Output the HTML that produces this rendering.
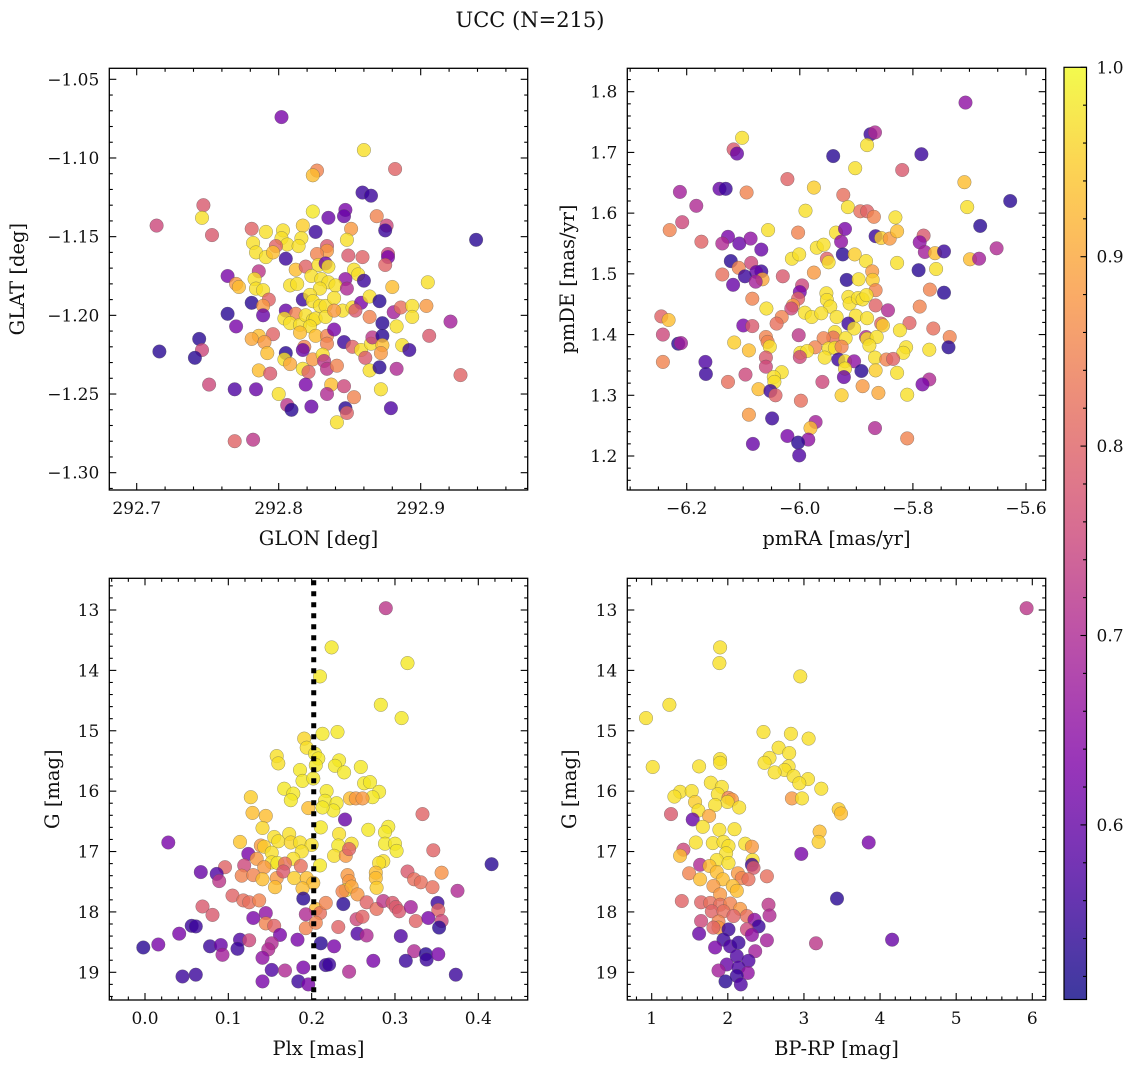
<!DOCTYPE html>
<html><head><meta charset="utf-8"><title>UCC (N=215)</title>
<style>
html,body{margin:0;padding:0;background:#fff;}
svg{display:block;font-family:"DejaVu Serif","Liberation Serif",serif;}
</style></head>
<body>
<svg id="fig" width="1136" height="1067" viewBox="0 0 1136 1067" xmlns="http://www.w3.org/2000/svg">
<rect width="1136" height="1067" fill="#fff"/>
<text x="530" y="27" font-size="21" text-anchor="middle" fill="#111">UCC (N=215)</text>
</svg>
<script>
// ---- data: [x, y, membership probability] ----
const glonGlatPoints = [
[292.802,-1.074,0.62],[292.860,-1.095,0.97],[292.827,-1.108,0.85],[292.824,-1.111,0.93],[292.882,-1.107,0.8],[292.859,-1.122,0.55],[292.865,-1.124,0.55],[292.747,-1.130,0.78],[292.746,-1.138,0.97],[292.714,-1.143,0.75],[292.753,-1.149,0.78],[292.824,-1.134,0.98],[292.835,-1.138,0.6],[292.847,-1.133,0.62],[292.846,-1.137,0.6],[292.869,-1.137,0.85],[292.781,-1.145,0.8],[292.791,-1.147,0.97],[292.803,-1.146,0.97],[292.817,-1.143,0.95],[292.826,-1.147,0.55],[292.851,-1.145,0.88],[292.876,-1.143,0.75],[292.875,-1.146,0.55],[292.939,-1.152,0.53],[292.848,-1.152,0.97],[292.782,-1.154,0.97],[292.802,-1.151,0.97],[292.806,-1.155,0.97],[292.816,-1.151,0.97],[292.814,-1.156,0.97],[292.798,-1.156,0.8],[292.784,-1.160,0.97],[292.791,-1.163,0.97],[292.796,-1.160,0.93],[292.805,-1.164,0.55],[292.834,-1.156,0.78],[292.834,-1.159,0.88],[292.827,-1.161,0.85],[292.849,-1.162,0.78],[292.859,-1.163,0.8],[292.877,-1.161,0.75],[292.877,-1.163,0.62],[292.875,-1.168,0.8],[292.812,-1.171,0.93],[292.819,-1.169,0.8],[292.828,-1.168,0.97],[292.833,-1.167,0.6],[292.835,-1.169,0.97],[292.786,-1.172,0.72],[292.764,-1.175,0.62],[292.770,-1.180,0.88],[292.772,-1.182,0.93],[292.783,-1.177,0.97],[292.784,-1.183,0.97],[292.789,-1.184,0.97],[292.853,-1.171,0.97],[292.856,-1.174,0.97],[292.847,-1.177,0.65],[292.860,-1.178,0.55],[292.808,-1.181,0.97],[292.813,-1.180,0.97],[292.823,-1.175,0.97],[292.830,-1.177,0.97],[292.835,-1.179,0.97],[292.840,-1.181,0.97],[292.829,-1.183,0.97],[292.848,-1.183,0.7],[292.880,-1.182,0.93],[292.905,-1.179,0.97],[292.793,-1.190,0.8],[292.781,-1.192,0.53],[292.789,-1.194,0.88],[292.789,-1.200,0.6],[292.817,-1.190,0.55],[292.822,-1.187,0.97],[292.824,-1.191,0.97],[292.829,-1.194,0.97],[292.833,-1.194,0.97],[292.839,-1.189,0.97],[292.845,-1.197,0.97],[292.852,-1.195,0.97],[292.858,-1.192,0.62],[292.864,-1.188,0.97],[292.871,-1.191,0.53],[292.854,-1.197,0.78],[292.764,-1.199,0.53],[292.770,-1.207,0.62],[292.805,-1.197,0.6],[292.812,-1.199,0.85],[292.804,-1.202,0.97],[292.808,-1.205,0.97],[292.815,-1.206,0.97],[292.819,-1.200,0.97],[292.824,-1.203,0.97],[292.826,-1.202,0.97],[292.822,-1.207,0.97],[292.833,-1.201,0.97],[292.839,-1.197,0.88],[292.864,-1.201,0.85],[292.881,-1.198,0.68],[292.886,-1.195,0.82],[292.894,-1.194,0.97],[292.894,-1.201,0.97],[292.904,-1.194,0.88],[292.921,-1.204,0.68],[292.873,-1.205,0.53],[292.883,-1.207,0.97],[292.744,-1.215,0.53],[292.746,-1.222,0.75],[292.716,-1.223,0.53],[292.741,-1.227,0.53],[292.796,-1.212,0.8],[292.786,-1.213,0.93],[292.781,-1.215,0.9],[292.790,-1.217,0.88],[292.792,-1.224,0.93],[292.815,-1.211,0.93],[292.818,-1.220,0.85],[292.817,-1.222,0.6],[292.826,-1.213,0.93],[292.834,-1.213,0.85],[292.834,-1.218,0.85],[292.839,-1.209,0.62],[292.846,-1.217,0.55],[292.852,-1.220,0.8],[292.858,-1.222,0.97],[292.865,-1.218,0.97],[292.866,-1.214,0.72],[292.873,-1.213,0.53],[292.873,-1.219,0.93],[292.872,-1.224,0.88],[292.887,-1.219,0.97],[292.892,-1.222,0.55],[292.906,-1.213,0.78],[292.805,-1.224,0.53],[292.804,-1.228,0.97],[292.808,-1.231,0.9],[292.817,-1.234,0.97],[292.824,-1.228,0.88],[292.821,-1.236,0.8],[292.831,-1.225,0.97],[292.832,-1.229,0.72],[292.834,-1.234,0.72],[292.841,-1.232,0.85],[292.861,-1.227,0.78],[292.864,-1.235,0.97],[292.871,-1.233,0.53],[292.883,-1.234,0.7],[292.928,-1.238,0.8],[292.786,-1.235,0.93],[292.794,-1.237,0.78],[292.751,-1.244,0.75],[292.769,-1.247,0.57],[292.784,-1.247,0.6],[292.800,-1.250,0.97],[292.819,-1.244,0.62],[292.837,-1.244,0.93],[292.846,-1.245,0.75],[292.834,-1.250,0.7],[292.853,-1.252,0.85],[292.872,-1.247,0.97],[292.806,-1.257,0.72],[292.809,-1.260,0.53],[292.823,-1.258,0.6],[292.847,-1.259,0.53],[292.848,-1.262,0.8],[292.879,-1.259,0.57],[292.841,-1.268,0.97],[292.769,-1.280,0.8],[292.782,-1.279,0.72]
];
const pmPoints = [
[-5.707,1.782,0.65],[-5.875,1.730,0.55],[-5.867,1.733,0.7],[-6.102,1.724,0.97],[-5.881,1.712,0.97],[-6.117,1.705,0.78],[-6.111,1.698,0.6],[-5.941,1.694,0.53],[-5.785,1.697,0.55],[-5.902,1.674,0.97],[-5.819,1.671,0.78],[-6.022,1.656,0.8],[-5.975,1.642,0.95],[-5.709,1.651,0.93],[-6.142,1.640,0.6],[-6.131,1.640,0.55],[-6.094,1.634,0.85],[-6.212,1.635,0.68],[-5.923,1.630,0.82],[-5.628,1.620,0.53],[-6.183,1.612,0.7],[-5.915,1.610,0.97],[-5.704,1.610,0.97],[-5.990,1.604,0.97],[-5.893,1.603,0.82],[-5.881,1.603,0.8],[-5.869,1.594,0.85],[-5.831,1.593,0.97],[-6.208,1.585,0.75],[-5.681,1.579,0.53],[-6.230,1.572,0.85],[-6.056,1.572,0.97],[-6.003,1.568,0.85],[-5.936,1.568,0.97],[-5.920,1.574,0.62],[-5.866,1.562,0.55],[-5.856,1.559,0.95],[-5.841,1.558,0.88],[-5.828,1.570,0.93],[-5.781,1.563,0.78],[-5.788,1.552,0.65],[-6.174,1.553,0.8],[-6.127,1.561,0.62],[-6.137,1.550,0.7],[-6.107,1.550,0.6],[-6.087,1.558,0.65],[-5.927,1.553,0.65],[-5.970,1.543,0.97],[-5.958,1.548,0.97],[-6.068,1.540,0.6],[-5.652,1.542,0.7],[-5.779,1.536,0.68],[-5.761,1.534,0.93],[-5.745,1.537,0.55],[-6.014,1.525,0.97],[-6.001,1.532,0.97],[-5.924,1.532,0.53],[-5.903,1.532,0.95],[-5.952,1.525,0.8],[-5.949,1.519,0.97],[-5.883,1.521,0.97],[-5.828,1.518,0.97],[-5.699,1.524,0.93],[-5.683,1.525,0.68],[-6.122,1.521,0.53],[-6.086,1.518,0.75],[-6.108,1.510,0.85],[-6.068,1.504,0.55],[-6.077,1.503,0.6],[-6.137,1.499,0.82],[-6.097,1.496,0.55],[-6.118,1.482,0.6],[-6.066,1.491,0.9],[-6.078,1.487,0.68],[-6.030,1.496,0.78],[-5.975,1.502,0.88],[-5.872,1.504,0.88],[-5.790,1.506,0.53],[-5.759,1.508,0.97],[-5.917,1.490,0.53],[-5.896,1.491,0.97],[-5.871,1.490,0.95],[-5.866,1.473,0.85],[-5.770,1.474,0.85],[-5.745,1.469,0.53],[-5.996,1.481,0.75],[-6.000,1.470,0.62],[-6.003,1.459,0.8],[-6.012,1.448,0.88],[-6.015,1.443,0.75],[-6.084,1.459,0.85],[-5.953,1.468,0.97],[-5.952,1.457,0.97],[-5.946,1.446,0.97],[-5.914,1.462,0.97],[-5.912,1.451,0.97],[-5.897,1.460,0.97],[-5.889,1.458,0.97],[-5.882,1.465,0.97],[-5.866,1.448,0.8],[-5.844,1.440,0.7],[-5.788,1.446,0.85],[-6.059,1.443,0.97],[-5.991,1.436,0.97],[-5.979,1.429,0.97],[-5.962,1.435,0.97],[-5.935,1.429,0.97],[-5.901,1.431,0.97],[-5.881,1.427,0.97],[-6.032,1.429,0.85],[-6.041,1.418,0.82],[-6.245,1.430,0.8],[-6.232,1.424,0.93],[-6.100,1.415,0.62],[-6.084,1.414,0.78],[-5.914,1.418,0.55],[-5.904,1.410,0.97],[-5.856,1.418,0.8],[-5.853,1.415,0.95],[-5.806,1.419,0.8],[-5.823,1.407,0.97],[-5.764,1.410,0.82],[-5.735,1.396,0.85],[-6.242,1.400,0.75],[-6.002,1.399,0.72],[-5.938,1.404,0.97],[-5.941,1.395,0.82],[-5.958,1.394,0.85],[-5.919,1.394,0.97],[-5.883,1.396,0.7],[-5.881,1.393,0.97],[-5.864,1.396,0.97],[-6.060,1.396,0.85],[-6.057,1.388,0.85],[-6.116,1.387,0.95],[-6.215,1.385,0.53],[-6.210,1.386,0.68],[-6.053,1.380,0.97],[-6.090,1.374,0.93],[-5.973,1.379,0.85],[-5.949,1.377,0.97],[-5.938,1.378,0.97],[-5.926,1.380,0.85],[-5.877,1.382,0.97],[-5.812,1.379,0.97],[-5.817,1.370,0.97],[-5.771,1.375,0.97],[-5.737,1.379,0.53],[-5.999,1.370,0.97],[-5.987,1.373,0.97],[-6.000,1.363,0.75],[-5.956,1.362,0.97],[-6.060,1.362,0.78],[-5.932,1.359,0.55],[-5.920,1.356,0.97],[-5.904,1.356,0.65],[-5.867,1.362,0.97],[-5.847,1.359,0.85],[-5.835,1.360,0.8],[-6.242,1.355,0.85],[-6.167,1.355,0.57],[-6.060,1.347,0.75],[-5.920,1.344,0.97],[-5.891,1.340,0.53],[-5.866,1.341,0.95],[-5.828,1.337,0.97],[-6.166,1.335,0.55],[-6.096,1.334,0.75],[-6.032,1.338,0.97],[-6.046,1.330,0.97],[-6.045,1.322,0.97],[-5.922,1.330,0.6],[-6.127,1.322,0.82],[-5.960,1.322,0.75],[-5.771,1.326,0.7],[-5.783,1.318,0.62],[-5.889,1.315,0.88],[-6.073,1.310,0.93],[-6.052,1.307,0.55],[-6.043,1.300,0.8],[-5.926,1.300,0.95],[-5.861,1.304,0.9],[-5.810,1.301,0.97],[-5.998,1.291,0.82],[-6.090,1.268,0.88],[-6.049,1.262,0.55],[-5.972,1.256,0.68],[-5.981,1.246,0.93],[-5.867,1.246,0.7],[-6.022,1.233,0.62],[-5.985,1.227,0.65],[-6.003,1.222,0.53],[-5.810,1.229,0.85],[-6.083,1.220,0.6],[-6.001,1.201,0.57]
];
const plxGPoints = [
[0.289,12.97,0.72],[0.224,13.62,0.98],[0.315,13.88,0.98],[0.210,14.10,0.98],[0.283,14.57,0.98],[0.308,14.79,0.98],[0.213,15.05,0.98],[0.231,15.02,0.98],[0.191,15.13,0.96],[0.194,15.28,0.97],[0.158,15.42,0.97],[0.160,15.54,0.97],[0.204,15.38,0.98],[0.208,15.46,0.98],[0.233,15.49,0.98],[0.228,15.58,0.98],[0.186,15.65,0.98],[0.205,15.57,0.98],[0.239,15.69,0.98],[0.259,15.60,0.98],[0.189,15.83,0.98],[0.202,15.79,0.98],[0.263,15.87,0.98],[0.270,15.85,0.98],[0.167,15.96,0.98],[0.178,16.04,0.98],[0.175,16.15,0.98],[0.218,16.00,0.98],[0.281,16.01,0.98],[0.273,16.10,0.98],[0.127,16.10,0.95],[0.246,16.12,0.93],[0.253,16.12,0.88],[0.261,16.12,0.88],[0.216,16.16,0.98],[0.230,16.20,0.98],[0.226,16.32,0.98],[0.213,16.27,0.98],[0.196,16.28,0.93],[0.129,16.36,0.93],[0.145,16.41,0.93],[0.240,16.47,0.6],[0.333,16.38,0.8],[0.141,16.61,0.96],[0.211,16.60,0.98],[0.268,16.64,0.98],[0.292,16.59,0.98],[0.288,16.68,0.98],[0.114,16.84,0.94],[0.028,16.85,0.62],[0.155,16.76,0.97],[0.160,16.83,0.97],[0.173,16.71,0.97],[0.175,16.85,0.96],[0.186,16.85,0.97],[0.200,16.89,0.97],[0.233,16.71,0.97],[0.248,16.87,0.97],[0.232,16.90,0.98],[0.288,16.87,0.98],[0.300,16.87,0.98],[0.302,16.99,0.98],[0.139,16.90,0.88],[0.143,16.92,0.95],[0.152,17.02,0.97],[0.124,17.04,0.62],[0.188,17.00,0.97],[0.346,16.98,0.8],[0.178,17.12,0.97],[0.134,17.12,0.88],[0.152,17.18,0.97],[0.159,17.19,0.98],[0.227,17.07,0.97],[0.241,17.07,0.88],[0.245,16.96,0.8],[0.210,17.23,0.98],[0.286,17.16,0.97],[0.281,17.19,0.97],[0.416,17.21,0.53],[0.119,17.23,0.75],[0.096,17.26,0.8],[0.143,17.26,0.88],[0.168,17.20,0.82],[0.187,17.24,0.82],[0.067,17.34,0.6],[0.086,17.37,0.57],[0.089,17.49,0.72],[0.116,17.40,0.85],[0.130,17.39,0.85],[0.141,17.46,0.93],[0.158,17.44,0.88],[0.166,17.33,0.78],[0.179,17.44,0.95],[0.194,17.44,0.93],[0.202,17.52,0.93],[0.156,17.59,0.93],[0.189,17.61,0.93],[0.277,17.35,0.93],[0.277,17.44,0.93],[0.278,17.60,0.95],[0.243,17.39,0.88],[0.245,17.49,0.88],[0.241,17.64,0.98],[0.237,17.66,0.85],[0.248,17.58,0.9],[0.255,17.71,0.88],[0.315,17.33,0.78],[0.323,17.46,0.82],[0.331,17.51,0.82],[0.345,17.59,0.82],[0.356,17.35,0.87],[0.375,17.65,0.7],[0.105,17.73,0.8],[0.118,17.81,0.82],[0.125,17.84,0.82],[0.137,17.81,0.85],[0.190,17.78,0.53],[0.205,17.95,0.93],[0.210,18.02,0.82],[0.217,17.85,0.85],[0.238,17.87,0.53],[0.266,17.84,0.8],[0.278,17.95,0.82],[0.286,17.82,0.72],[0.297,17.85,0.78],[0.301,17.92,0.78],[0.305,17.99,0.78],[0.319,17.92,0.68],[0.351,17.85,0.55],[0.352,17.97,0.8],[0.356,18.15,0.75],[0.353,18.26,0.53],[0.069,17.91,0.78],[0.081,18.05,0.78],[0.130,18.10,0.62],[0.145,18.02,0.65],[0.145,18.19,0.85],[0.155,18.23,0.8],[0.193,18.04,0.7],[0.193,18.27,0.85],[0.205,18.18,0.85],[0.232,18.25,0.8],[0.254,18.12,0.75],[0.261,18.08,0.8],[0.325,18.15,0.8],[0.340,18.10,0.62],[0.056,18.23,0.55],[0.061,18.24,0.55],[0.041,18.36,0.62],[0.162,18.38,0.62],[0.183,18.46,0.62],[0.114,18.46,0.57],[0.125,18.47,0.75],[0.255,18.36,0.57],[0.266,18.39,0.7],[0.307,18.40,0.57],[-0.002,18.59,0.53],[0.016,18.54,0.62],[0.078,18.57,0.55],[0.091,18.55,0.6],[0.093,18.71,0.68],[0.111,18.61,0.55],[0.152,18.52,0.7],[0.148,18.62,0.7],[0.141,18.76,0.65],[0.211,18.52,0.53],[0.227,18.57,0.62],[0.323,18.65,0.7],[0.337,18.70,0.53],[0.338,18.79,0.55],[0.352,18.70,0.62],[0.313,18.81,0.55],[0.274,18.81,0.62],[0.217,18.88,0.55],[0.221,18.87,0.55],[0.045,19.07,0.55],[0.061,19.04,0.55],[0.152,18.96,0.57],[0.168,18.97,0.7],[0.190,18.92,0.62],[0.245,18.99,0.7],[0.373,19.04,0.55],[0.141,19.15,0.62],[0.184,19.15,0.55],[0.196,19.20,0.62]
];
const cmdPoints = [
[5.925,12.97,0.72],[1.899,13.62,0.97],[1.890,13.88,0.97],[2.952,14.10,0.97],[1.232,14.57,0.97],[0.925,14.79,0.97],[2.469,15.02,0.97],[2.829,15.05,0.97],[3.061,15.13,0.97],[2.667,15.28,0.97],[2.807,15.37,0.97],[1.899,15.47,0.97],[1.899,15.53,0.97],[2.548,15.45,0.97],[2.482,15.53,0.97],[2.798,15.59,0.97],[2.746,15.65,0.97],[2.614,15.69,0.97],[1.013,15.60,0.97],[1.623,15.59,0.97],[2.864,15.75,0.97],[3.053,15.80,0.97],[2.939,15.87,0.97],[3.228,15.96,0.97],[1.776,15.86,0.97],[1.921,15.93,0.97],[1.373,16.01,0.97],[1.298,16.09,0.97],[1.526,16.00,0.97],[1.868,16.05,0.97],[2.009,16.11,0.85],[2.053,16.14,0.88],[1.996,16.18,0.97],[1.570,16.18,0.95],[1.833,16.23,0.97],[2.149,16.27,0.97],[2.842,16.12,0.88],[2.974,16.12,0.97],[3.456,16.30,0.95],[3.487,16.37,0.93],[1.614,16.32,0.97],[1.254,16.38,0.78],[1.539,16.47,0.6],[1.754,16.41,0.9],[1.671,16.59,0.97],[1.890,16.64,0.97],[2.088,16.63,0.97],[3.206,16.67,0.93],[3.193,16.84,0.95],[3.851,16.85,0.62],[2.965,17.04,0.62],[1.579,16.85,0.97],[1.417,16.97,0.75],[1.373,17.07,0.93],[1.803,16.86,0.97],[1.943,16.84,0.97],[2.009,16.91,0.97],[1.978,17.03,0.97],[2.228,16.87,0.97],[2.316,16.92,0.88],[1.855,17.14,0.97],[2.009,17.19,0.97],[2.325,17.14,0.97],[2.316,17.22,0.55],[2.338,17.27,0.78],[1.636,17.22,0.7],[1.759,17.24,0.93],[1.491,17.36,0.85],[1.636,17.46,0.93],[1.855,17.34,0.93],[1.934,17.46,0.93],[1.811,17.57,0.88],[2.132,17.36,0.88],[2.184,17.44,0.85],[2.272,17.46,0.82],[2.513,17.41,0.82],[2.066,17.57,0.93],[2.118,17.65,0.93],[1.899,17.71,0.88],[1.395,17.82,0.8],[1.649,17.84,0.8],[1.768,17.85,0.82],[1.899,17.88,0.82],[2.031,17.86,0.85],[1.789,17.99,0.8],[1.943,17.99,0.82],[2.162,17.95,0.88],[2.250,18.07,0.82],[2.075,18.07,0.8],[2.535,17.88,0.72],[2.548,18.06,0.7],[1.649,18.15,0.75],[1.877,18.16,0.85],[1.877,18.26,0.88],[1.811,18.26,0.8],[2.351,18.13,0.65],[2.404,18.24,0.55],[2.250,18.29,0.75],[1.623,18.36,0.6],[2.009,18.29,0.55],[2.513,18.47,0.68],[2.316,18.38,0.65],[1.943,18.46,0.55],[1.833,18.59,0.62],[2.031,18.57,0.57],[2.140,18.51,0.55],[2.118,18.73,0.57],[2.360,18.65,0.68],[2.272,18.81,0.57],[1.987,18.87,0.6],[2.140,18.92,0.57],[1.877,18.97,0.68],[2.263,19.01,0.65],[2.118,19.06,0.55],[1.969,19.15,0.53],[2.171,19.20,0.57],[3.434,17.78,0.53],[3.158,18.52,0.72],[4.158,18.46,0.6]
];
const plxMedian = [0.2025];
const panel1XTicks = ["292.7","292.8","292.9"];
const panel1YTicks = ["−1.05","−1.10","−1.15","−1.20","−1.25","−1.30"];
const panel2XTicks = ["−6.2","−6.0","−5.8","−5.6"];
const panel2YTicks = ["1.8","1.7","1.6","1.5","1.4","1.3","1.2"];
const panel3XTicks = ["0.0","0.1","0.2","0.3","0.4"];
const panel4XTicks = ["1","2","3","4","5","6"];
const magTicks = ["13","14","15","16","17","18","19"];
const cbarTicks = ["0.6","0.7","0.8","0.9","1.0"];

const NS = "http://www.w3.org/2000/svg";
const svg = document.getElementById('fig');
const VMIN = 0.5035, VMAX = 1.0;
const TICKFS = 17, TITLEFS = 19.5;
const plasmaStops = [[0,[13,8,135]],[0.13,[76,2,161]],[0.25,[126,3,168]],[0.38,[169,35,149]],[0.5,[204,71,120]],[0.63,[229,107,93]],[0.75,[248,148,65]],[0.88,[253,195,40]],[1,[240,249,33]]];
function plasma(t){
  t=Math.max(0,Math.min(1,t));
  for(let i=1;i<plasmaStops.length;i++){
    if(t<=plasmaStops[i][0]){
      const a=plasmaStops[i-1],b=plasmaStops[i],f=(t-a[0])/(b[0]-a[0]);
      return 'rgb('+[0,1,2].map(k=>Math.round(a[1][k]+f*(b[1][k]-a[1][k]))).join(',')+')';
    }
  }
  return 'rgb(240,249,33)';
}
function mk(tag,attrs,parent){const e=document.createElementNS(NS,tag);for(const k in attrs)e.setAttribute(k,attrs[k]);(parent||svg).appendChild(e);return e;}
function lin(d0,d1,p0,p1){return v=>p0+(v-d0)*(p1-p0)/(d1-d0);}
function inv(d0,d1,p0,p1){return p=>d0+(p-p0)*(d1-d0)/(p1-p0);}

function drawPanel(cfg){
  const g=mk('g',{});
  
  
  const {L,T,R,B}=cfg.box;
  const sx=lin(cfg.xa[0],cfg.xa[1],cfg.xa[2],cfg.xa[3]);
  const sy=lin(cfg.ya[0],cfg.ya[1],cfg.ya[2],cfg.ya[3]);
  const ix=inv(cfg.xa[0],cfg.xa[1],cfg.xa[2],cfg.xa[3]);
  const iy=inv(cfg.ya[0],cfg.ya[1],cfg.ya[2],cfg.ya[3]);
  const clipId='clip'+cfg.name;
  const cp=mk('clipPath',{id:clipId},g);mk('rect',{x:L,y:T,width:R-L,height:B-T},cp);
  const pg=mk('g',{'clip-path':'url(#'+clipId+')'},g);
  
  
  cfg.pts.forEach(p=>{
    const c=mk('circle',{cx:sx(p[0]).toFixed(1),cy:sy(p[1]).toFixed(1),r:6.8,fill:plasma((p[2]-VMIN)/(VMAX-VMIN)),'fill-opacity':0.8,stroke:'#555','stroke-opacity':0.6,'stroke-width':0.5},pg);
    
    
  });
  if(cfg.vline){
    const l=mk('line',{x1:sx(cfg.vline[0]),x2:sx(cfg.vline[0]),y1:T+2,y2:B,stroke:'#000','stroke-width':5,'stroke-dasharray':'5 6'},g);
    
    
  }
  const tg=mk('g',{stroke:'#000','stroke-width':1.1},g);
  const xlo=Math.min(ix(L),ix(R)),xhi=Math.max(ix(L),ix(R));
  for(let v=Math.ceil(xlo/cfg.xminor-1e-6)*cfg.xminor;v<=xhi+1e-9;v+=cfg.xminor){
    const px=sx(v);
    const major=Math.abs(v/cfg.xmajor-Math.round(v/cfg.xmajor))<1e-4;
    const len=major?7:3.5;
    mk('line',{x1:px,x2:px,y1:B,y2:B-len},tg);mk('line',{x1:px,x2:px,y1:T,y2:T+len},tg);
  }
  const ylo=Math.min(iy(T),iy(B)),yhi=Math.max(iy(T),iy(B));
  for(let v=Math.ceil(ylo/cfg.yminor-1e-6)*cfg.yminor;v<=yhi+1e-9;v+=cfg.yminor){
    const py=sy(v);
    const major=Math.abs(v/cfg.ymajor-Math.round(v/cfg.ymajor))<1e-4;
    const len=major?7:3.5;
    mk('line',{x1:L,x2:L+len,y1:py,y2:py},tg);mk('line',{x1:R,x2:R-len,y1:py,y2:py},tg);
  }
  cfg.xtickVals.forEach((v,i)=>{
    const t=mk('text',{x:sx(v),y:B+24,'font-size':TICKFS,'text-anchor':'middle',fill:'#111'},g);
    t.textContent=cfg.xtickLabels[i];
    
    
  });
  cfg.ytickVals.forEach((v,i)=>{
    const t=mk('text',{x:L-10,y:sy(v)+6,'font-size':TICKFS,'text-anchor':'end',fill:'#111'},g);
    t.textContent=cfg.ytickLabels[i];
    
    
  });
  const xl=mk('text',{x:(L+R)/2,y:B+55,'font-size':TITLEFS,'text-anchor':'middle',fill:'#111'},g);
  xl.textContent=cfg.xlabel;
  
  
  const yl=mk('text',{x:0,y:0,'font-size':TITLEFS,'text-anchor':'middle',fill:'#111',transform:'translate('+cfg.ylabelX+','+((T+B)/2)+') rotate(-90)'},g);
  yl.textContent=cfg.ylabel;
  
  
  mk('rect',{x:L,y:T,width:R-L,height:B-T,fill:'none',stroke:'#000','stroke-width':1.3},g);
}

drawPanel({name:'glon-glat-panel',box:{L:109.3,T:68.3,R:527.7,B:490},pts:glonGlatPoints,
  xa:[292.7,292.9,136.7,420.7],ya:[-1.05,-1.30,79.3,472.7],xminor:0.02,xmajor:0.1,yminor:0.01,ymajor:0.05,
  xtickVals:[292.7,292.8,292.9],xtickLabels:panel1XTicks,ytickVals:[-1.05,-1.10,-1.15,-1.20,-1.25,-1.30],ytickLabels:panel1YTicks,
  xlabel:'GLON [deg]',ylabel:'GLAT [deg]',ylabelX:24});
drawPanel({name:'proper-motion-panel',box:{L:627.3,T:68.3,R:1045.7,B:490},pts:pmPoints,
  xa:[-6.2,-5.6,686.7,1026],ya:[1.8,1.2,91.7,456],xminor:0.05,xmajor:0.2,yminor:0.02,ymajor:0.1,
  xtickVals:[-6.2,-6.0,-5.8,-5.6],xtickLabels:panel2XTicks,ytickVals:[1.8,1.7,1.6,1.5,1.4,1.3,1.2],ytickLabels:panel2YTicks,
  xlabel:'pmRA [mas/yr]',ylabel:'pmDE [mas/yr]',ylabelX:574});
drawPanel({name:'parallax-mag-panel',box:{L:109.3,T:578.3,R:527.7,B:1000},pts:plxGPoints,vline:plxMedian,
  xa:[0,0.4,145,478.3],ya:[13,19,610,972.3],xminor:0.02,xmajor:0.1,yminor:0.2,ymajor:1,
  xtickVals:[0,0.1,0.2,0.3,0.4],xtickLabels:panel3XTicks,ytickVals:[13,14,15,16,17,18,19],ytickLabels:magTicks,
  xlabel:'Plx [mas]',ylabel:'G [mag]',ylabelX:59});
drawPanel({name:'cmd-panel',box:{L:627.3,T:578.3,R:1045.7,B:1000},pts:cmdPoints,
  xa:[1,6,651.7,1032.3],ya:[13,19,610,972.3],xminor:0.2,xmajor:1,yminor:0.2,ymajor:1,
  xtickVals:[1,2,3,4,5,6],xtickLabels:panel4XTicks,ytickVals:[13,14,15,16,17,18,19],ytickLabels:magTicks,
  xlabel:'BP-RP [mag]',ylabel:'G [mag]',ylabelX:576});

(function(){
  const L=1064,R=1086.5,T=67.3,B=999.5;
  const cg=mk('g',{});
  
  
  const defs=mk('defs',{},cg);
  const grad=mk('linearGradient',{id:'cbgrad',x1:0,y1:1,x2:0,y2:0},defs);
  for(let i=0;i<=20;i++){mk('stop',{offset:i/20,'stop-color':plasma(i/20),'stop-opacity':0.8},grad);}
  mk('rect',{x:L,y:T,width:R-L,height:B-T,fill:'url(#cbgrad)'},cg);
  const sc=lin(0.9,1.0,256.7,67.3);
  for(let v=0.52;v<=1.0001;v+=0.02){
    const major=Math.abs(v*10-Math.round(v*10))<1e-4;
    mk('line',{x1:R,x2:R-(major?6:3.5),y1:sc(v),y2:sc(v),stroke:'#000','stroke-width':1.1},cg);
  }
  cbarTicks.forEach(s=>{
    const t=mk('text',{x:R+10,y:sc(parseFloat(s))+6,'font-size':TICKFS,fill:'#111'},cg);
    t.textContent=s;
    
    
  });
  mk('rect',{x:L,y:T,width:R-L,height:B-T,fill:'none',stroke:'#000','stroke-width':1.2},cg);
})();
</script>
</body></html>
